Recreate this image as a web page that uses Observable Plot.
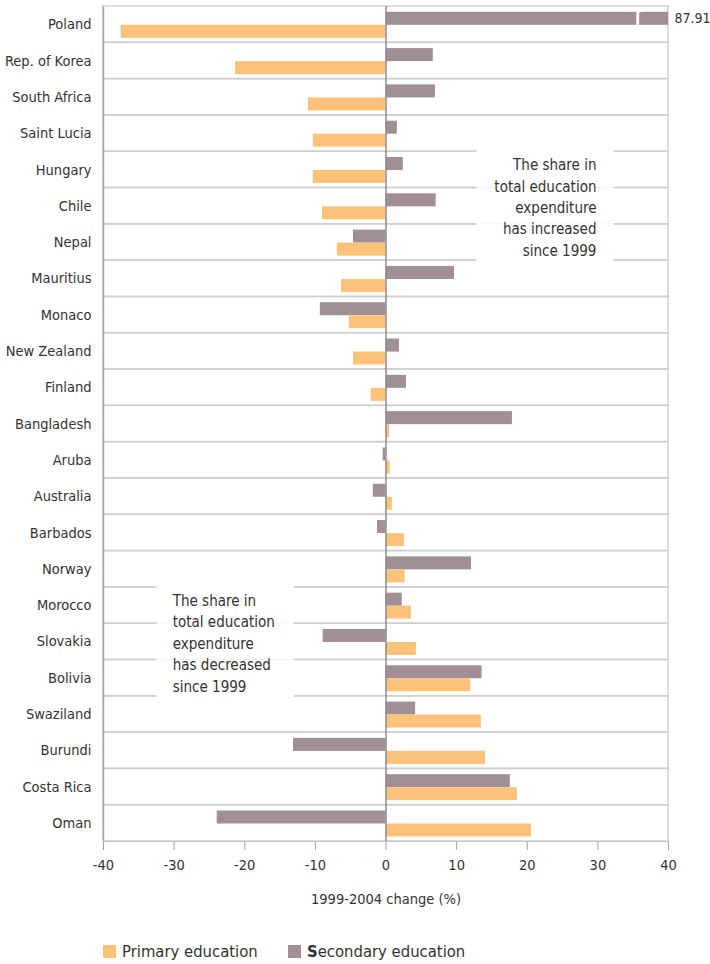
<!DOCTYPE html>
<html>
<head>
<meta charset="utf-8">
<script src="https://cdn.jsdelivr.net/npm/d3@7"></script>
<script src="https://cdn.jsdelivr.net/npm/@observablehq/plot@0.6"></script>
<style>
  body { margin: 0; background: #fff; font-family: "DejaVu Sans Condensed", "Liberation Sans Narrow", "Roboto", sans-serif; }
  #chart svg { display: block; }
  g[aria-label="y-axis tick label"], g[aria-label="x-axis tick label"] { fill: #333; }
  g[aria-label="y-axis"] text, g[aria-label="x-axis"] text { fill: #333; }
  .legend { position: relative; height: 44px; font-size: 16.5px; color: #333; }
  .legend .item { position: absolute; top: 22px; display: flex; align-items: center; }
  .legend .sw { width: 13px; height: 13px; margin-right: 6px; }
</style>
</head>
<body>
<div id="chart"></div>
<div class="legend">
  <div class="item" style="left:103px"><div class="sw" id="sw1"></div><span id="lg1"></span></div>
  <div class="item" style="left:288px"><div class="sw" id="sw2"></div><span id="lg2"></span></div>
</div>
<script>
const countries = ["Poland","Rep. of Korea","South Africa","Saint Lucia","Hungary","Chile","Nepal","Mauritius","Monaco","New Zealand","Finland","Bangladesh","Aruba","Australia","Barbados","Norway","Morocco","Slovakia","Bolivia","Swaziland","Burundi","Costa Rica","Oman"];
const primary   = [-37.5,-21.3,-11.0,-10.3,-10.3,-9.0,-6.9,-6.3,-5.2,-4.6,-2.1,0.5,0.6,0.9,2.6,2.7,3.6,4.3,12.0,13.5,14.1,18.6,20.6];
const secondary = [87.91,6.7,7.0,1.6,2.45,7.1,-4.6,9.7,-9.3,1.9,2.9,17.9,-0.4,-1.8,-1.2,12.1,2.3,-8.9,13.6,4.2,-13.1,17.6,-23.9];
const seriesNames = ["Primary education", "Secondary education"];
const seriesColors = ["#fdc279", "#a08f94"];
const xTicks = [-40,-30,-20,-10,0,10,20,30,40];
const xDomain = [-40, 40];
const axisTitle = "1999-2004 change (%)";
const annoIncreased = {text: "The share in\ntotal education\nexpenditure\nhas increased\nsince 1999", row: "Chile", x: 29.8, rows: ["Hungary","Chile","Nepal"], x1: 12.9, x2: 32.3};
const annoDecreased = {text: "The share in\ntotal education\nexpenditure\nhas decreased\nsince 1999", row: "Slovakia", x: -30.2, rows: ["Morocco","Slovakia","Bolivia"], x1: -32.4, x2: -13.0};
const overflowLabel = {country: "Poland", value: 87.91, label: "87.91", breakAt: 35.7};

const primRows = countries.map((c, i) => ({country: c, value: primary[i]}));
const secRows = countries.map((c, i) => ({country: c, value: secondary[i]}));
const boxes = [annoIncreased, annoDecreased].flatMap(a => a.rows.map((r, i) => ({row: r, x1: a.x1, x2: a.x2, first: i === 0, last: i === a.rows.length - 1})));

const font = '"DejaVu Sans Condensed", "Liberation Sans Narrow", "Roboto", sans-serif';

const chart = Plot.plot({
  width: 710,
  height: 920,
  marginTop: 6,
  marginLeft: 103,
  marginRight: 42,
  marginBottom: 79,
  style: {fontFamily: font, fontSize: "14.5px", color: "#a0a0a0", background: "#fff"},
  x: {domain: xDomain, clamp: true, ticks: xTicks, tickFormat: d => String(d), tickSize: 9, tickPadding: 9, label: null, line: true},
  y: {domain: countries, padding: 0, round: false, tickSize: 0, tickPadding: 12, label: null},
  marks: [
    Plot.cell(countries, {y: d => d, fill: "none", stroke: "#cfcfcf", strokeWidth: 1.5}),
    Plot.barX(boxes, {y: "row", x1: "x1", x2: "x2", fill: "white"}),
    Plot.barX(boxes.filter(d => d.first), {y: "row", x1: "x1", x2: "x2", fill: "white", insetTop: -2, insetBottom: 20}),
    Plot.barX(boxes.filter(d => d.last), {y: "row", x1: "x1", x2: "x2", fill: "white", insetTop: 20, insetBottom: -2}),
    Plot.ruleX([-40], {stroke: "#a8a8a8", strokeWidth: 1.5}),
    Plot.barX(secRows, {y: "country", x: "value", fill: seriesColors[1], insetTop: 5.8, insetBottom: 17.5}),
    Plot.barX(primRows, {y: "country", x: "value", fill: seriesColors[0], insetTop: 18.8, insetBottom: 4.5}),
    Plot.ruleX([0], {stroke: "#8c8c8c", strokeWidth: 1.5}),
    Plot.text([overflowLabel], {y: "country", x: "breakAt", text: d => "ʃ", fill: "white", fontSize: 17, fontWeight: "bold", dy: -6}),
    Plot.text([overflowLabel], {y: "country", x: d => d.value, text: "label", textAnchor: "start", dx: 6, dy: -6, fill: "#333", fontSize: 14}),
    Plot.text([annoIncreased], {y: "row", x: "x", text: "text", textAnchor: "end", lineAnchor: "middle", lineHeight: 1.43, fill: "#333", fontSize: 15}),
    Plot.text([annoDecreased], {y: "row", x: "x", text: "text", textAnchor: "start", lineAnchor: "middle", lineHeight: 1.43, fill: "#333", fontSize: 15}),
    Plot.text([axisTitle], {frameAnchor: "bottom", dy: 62, fill: "#333", fontSize: 14.5})
  ]
});
document.getElementById("chart").append(chart);
document.getElementById("sw1").style.background = seriesColors[0];
document.getElementById("sw2").style.background = seriesColors[1];
document.getElementById("lg1").textContent = seriesNames[0];
document.getElementById("lg2").innerHTML = "<span style='font-weight:bold'>" + seriesNames[1][0] + "</span>" + seriesNames[1].slice(1);
</script>
</body>
</html>
